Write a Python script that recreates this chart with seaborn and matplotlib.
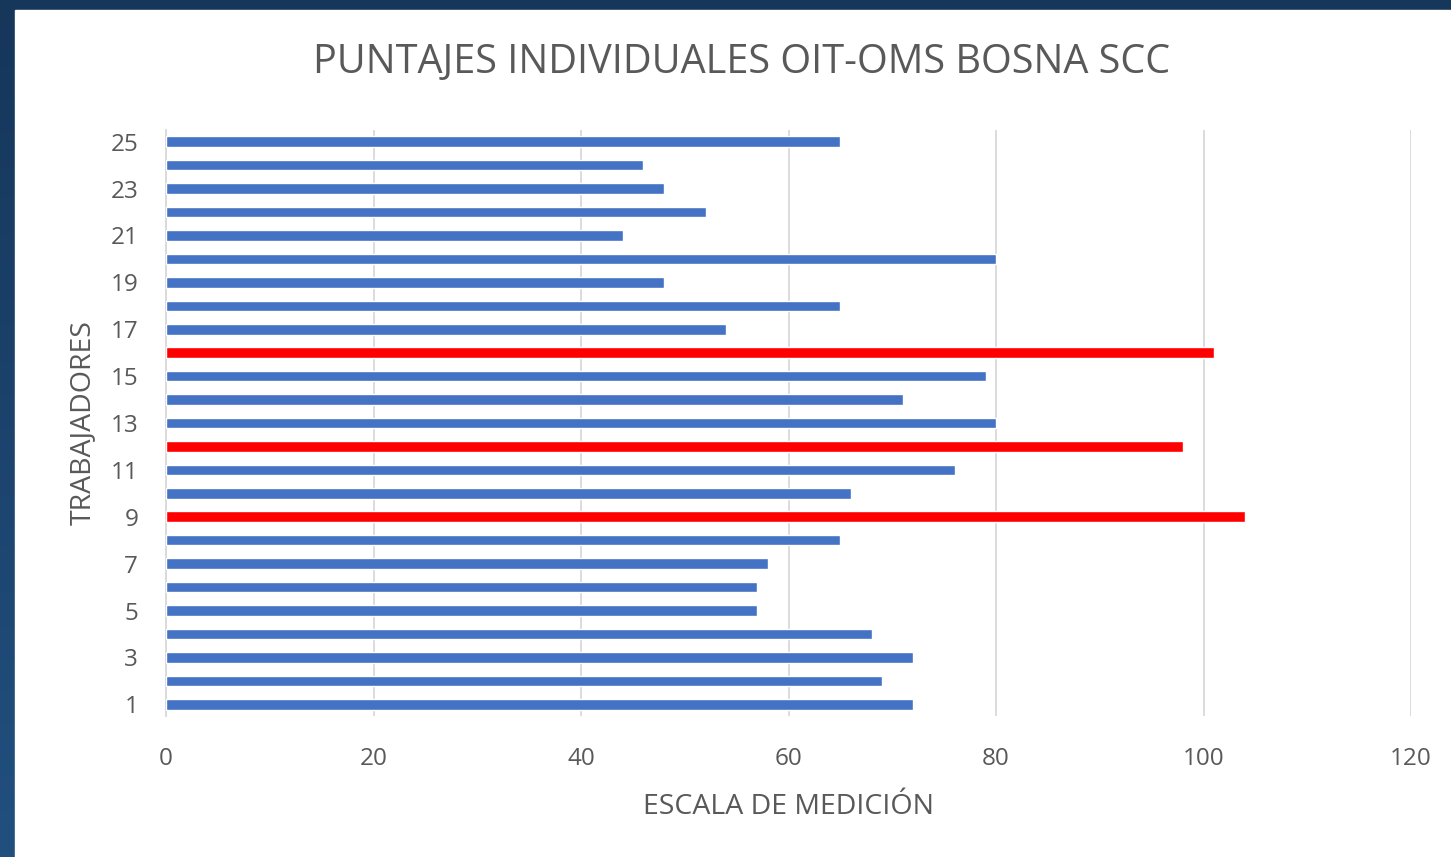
import numpy as np
import pandas as pd
import matplotlib.pyplot as plt
import seaborn as sns
from matplotlib.patches import Rectangle
from matplotlib.colors import LinearSegmentedColormap

# --- Data ---
trabajadores = list(range(1, 26))
puntajes = [72, 69, 72, 68, 57, 57, 58, 65, 104, 66,
            76, 98, 80, 71, 79, 101, 54, 65, 48, 80,
            44, 52, 48, 46, 65]
x_ticks = [0, 20, 40, 60, 80, 100, 120]
y_ticks = list(range(1, 26, 2))

df = pd.DataFrame({"trabajador": trabajadores, "puntaje": puntajes})
df["nivel"] = np.where(df["puntaje"] > 90, "alto", "normal")

# --- Style ---
sns.set_style("white")
plt.rcParams["font.family"] = ["Open Sans", "DejaVu Sans"]
gris = "#595959"

fig = plt.figure(figsize=(14.51, 8.57), dpi=100)

# dark blue frame with a soft vertical gradient
bg = fig.add_axes([0, 0, 1, 1], zorder=-10)
grad = np.linspace(0, 1, 256).reshape(-1, 1)
cmap = LinearSegmentedColormap.from_list("marco", ["#16365a", "#21507f"])
bg.imshow(grad, aspect="auto", cmap=cmap, extent=[0, 1, 0, 1])
bg.add_patch(Rectangle((15 / 1451, 0), 1, 1 - 10 / 857, color="white",
                       transform=bg.transAxes))
bg.set_xlim(0, 1)
bg.set_ylim(0, 1)
bg.axis("off")

ax = fig.add_axes([166 / 1451, 1 - 716 / 857, (1411 - 166) / 1451, (716 - 130) / 857])
ax.set_facecolor("none")

sns.barplot(data=df, x="puntaje", y="trabajador", hue="nivel",
            palette={"normal": "#4472C4", "alto": "#FF0000"},
            orient="h", native_scale=True, dodge=False, legend=False,
            width=0.45, saturation=1, ax=ax, zorder=3)

ax.set_xlim(0, 120)
ax.set_ylim(0.5, 25.5)
ax.set_xticks(x_ticks)
ax.set_yticks(y_ticks)
ax.grid(axis="x", color="#d9d9d9", linewidth=1.3, zorder=0)
ax.grid(axis="y", visible=False)
for s in ["top", "right", "bottom"]:
    ax.spines[s].set_visible(False)
ax.spines["left"].set_color("#d9d9d9")
ax.spines["left"].set_linewidth(1.3)
ax.tick_params(axis="both", length=0, labelsize=17.5, colors=gris)
ax.tick_params(axis="x", pad=22)
ax.tick_params(axis="y", pad=20)

ax.set_xlabel("ESCALA DE MEDICIÓN", fontsize=20.5, color=gris, labelpad=16)
ax.set_ylabel("TRABAJADORES", fontsize=20.5, color=gris, labelpad=10)
fig.text(742 / 1451, 1 - 63 / 857, "PUNTAJES INDIVIDUALES OIT-OMS BOSNA SCC",
         ha="center", va="center", fontsize=28.5, color=gris)

plt.savefig("out.png", dpi=100)
plt.close()
